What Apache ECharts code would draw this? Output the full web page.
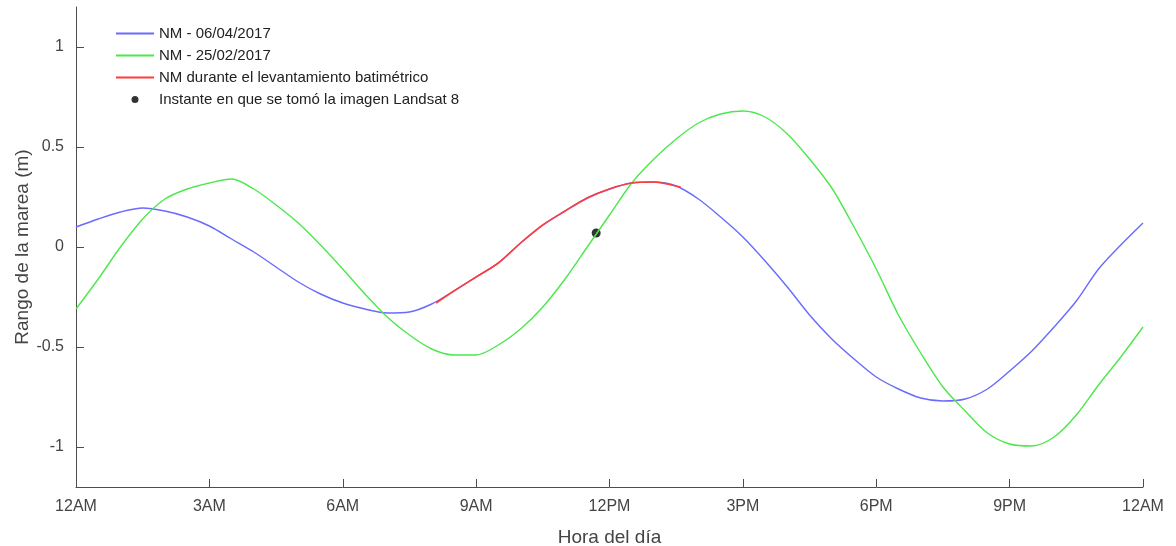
<!DOCTYPE html>
<html>
<head>
<meta charset="utf-8">
<script src="https://cdn.jsdelivr.net/npm/echarts@6/dist/echarts.min.js"></script>
<style>
  html, body { margin: 0; padding: 0; background: #fff; }
  #chart { width: 1176px; height: 546px; }
</style>
</head>
<body>
<div id="chart"></div>
<script>
// horas del día (cada media hora) para las dos curvas completas
const hours = [0, 0.5, 1, 1.5, 2, 2.5, 3, 3.5, 4, 4.5, 5, 5.5, 6, 6.5, 7, 7.5, 8, 8.5, 9, 9.5, 10, 10.5, 11, 11.5,
  12, 12.5, 13, 13.5, 14, 14.5, 15, 15.5, 16, 16.5, 17, 17.5, 18, 18.5, 19, 19.5, 20, 20.5, 21, 21.5, 22, 22.5, 23, 23.5, 24];

// NM - 06/04/2017
const nmAbril = [0.10, 0.14, 0.175, 0.195, 0.18, 0.15, 0.105, 0.04, -0.025, -0.10, -0.175, -0.235, -0.28, -0.31, -0.33, -0.325,
  -0.285, -0.22, -0.15, -0.08, 0.02, 0.11, 0.18, 0.245, 0.29, 0.32, 0.325, 0.305, 0.24, 0.15, 0.05, -0.07, -0.20, -0.34,
  -0.46, -0.56, -0.65, -0.71, -0.755, -0.77, -0.76, -0.71, -0.62, -0.52, -0.40, -0.27, -0.11, 0.01, 0.12];

// NM - 25/02/2017
const nmFebrero = [-0.31, -0.16, 0.0, 0.14, 0.24, 0.29, 0.32, 0.34, 0.29, 0.21, 0.12, 0.01, -0.11, -0.235, -0.35, -0.44,
  -0.51, -0.54, -0.54, -0.49, -0.41, -0.30, -0.16, 0.0, 0.16, 0.32, 0.44, 0.54, 0.62, 0.665, 0.68, 0.65, 0.565, 0.44,
  0.295, 0.10, -0.11, -0.34, -0.53, -0.70, -0.82, -0.93, -0.985, -0.995, -0.95, -0.84, -0.69, -0.55, -0.40];

// tramo durante el levantamiento batimétrico
const horasLevantamiento = [8.1, 8.5, 9, 9.5, 10, 10.5, 11, 11.5, 12, 12.5, 13, 13.5, 13.6];
const nmLevantamiento = [-0.28, -0.22, -0.15, -0.08, 0.02, 0.11, 0.18, 0.245, 0.29, 0.32, 0.325, 0.305, 0.30];

// instante de la imagen Landsat 8
const landsatHora = [11.7];
const landsatNM = [0.07];

const xTickLabels = ['12AM', '3AM', '6AM', '9AM', '12PM', '3PM', '6PM', '9PM', '12AM'];
const yTicks = [-1, -0.5, 0, 0.5, 1];

const pairs = (xs, ys) => xs.map((x, i) => [x, ys[i]]);

const chart = echarts.init(document.getElementById('chart'));
const font = 'Liberation Sans, Arial, sans-serif';
const axisColor = '#4d4d4d';
const hideSymbol = { opacity: 0 };

const option = {
  animation: false,
  backgroundColor: '#fff',
  textStyle: { fontFamily: font },
  grid: { left: 76, right: 33, top: 7, bottom: 59, outerBoundsMode: 'none' },
  legend: {
    orient: 'vertical',
    left: 110,
    top: 21,
    itemWidth: 38,
    itemHeight: 7,
    itemGap: 7,
    textStyle: { fontSize: 15, color: '#222', fontFamily: font },
    data: [
      { name: 'NM - 06/04/2017', itemStyle: hideSymbol },
      { name: 'NM - 25/02/2017', itemStyle: hideSymbol },
      { name: 'NM durante el levantamiento batimétrico', itemStyle: hideSymbol },
      { name: 'Instante en que se tomó la imagen Landsat 8', icon: 'circle' }
    ]
  },
  xAxis: {
    type: 'value',
    min: 0,
    max: 24,
    interval: 3,
    name: 'Hora del día',
    nameLocation: 'middle',
    nameGap: 41,
    nameTextStyle: { fontSize: 19, color: '#444' },
    axisLine: { onZero: false, lineStyle: { color: axisColor } },
    axisTick: { inside: true, length: 8, lineStyle: { color: axisColor } },
    axisLabel: {
      fontSize: 16, color: '#444', margin: 12,
      formatter: (v) => xTickLabels[Math.round(v / 3)]
    },
    splitLine: { show: false }
  },
  yAxis: {
    type: 'value',
    min: -1.2,
    max: 1.2,
    name: 'Rango de la marea (m)',
    nameLocation: 'middle',
    nameGap: 44,
    nameMoveOverlap: false,
    nameTextStyle: { fontSize: 19, color: '#444' },
    axisLine: { show: true, onZero: false, lineStyle: { color: axisColor } },
    axisTick: { show: true, inside: true, length: 8, customValues: yTicks, lineStyle: { color: axisColor } },
    axisLabel: { fontSize: 16, color: '#444', margin: 12, customValues: yTicks },
    splitLine: { show: false }
  },
  series: [
    {
      name: 'NM - 06/04/2017',
      type: 'line',
      symbol: 'none',
      smooth: 0.3,
      data: pairs(hours, nmAbril),
      lineStyle: { color: '#6a6aff', width: 1.4 },
      itemStyle: { color: '#6a6aff' }
    },
    {
      name: 'NM - 25/02/2017',
      type: 'line',
      symbol: 'none',
      smooth: 0.3,
      data: pairs(hours, nmFebrero),
      lineStyle: { color: '#4be84b', width: 1.4 },
      itemStyle: { color: '#4be84b' }
    },
    {
      name: 'NM durante el levantamiento batimétrico',
      type: 'line',
      symbol: 'none',
      smooth: 0.3,
      data: pairs(horasLevantamiento, nmLevantamiento),
      lineStyle: { color: '#ff3b3b', width: 1.6 },
      itemStyle: { color: '#ff3b3b' }
    },
    {
      name: 'Instante en que se tomó la imagen Landsat 8',
      type: 'scatter',
      symbol: 'circle',
      symbolSize: 9,
      data: pairs(landsatHora, landsatNM),
      itemStyle: { color: '#000' }
    }
  ]
};

chart.setOption(option);
</script>
</body>
</html>
